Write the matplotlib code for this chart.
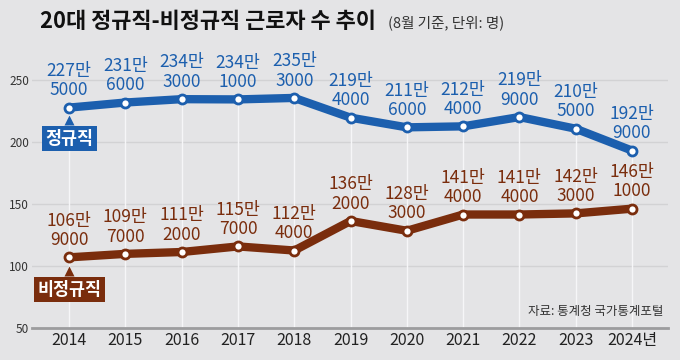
import matplotlib
matplotlib.use("Agg")
import matplotlib.pyplot as plt

plt.rcParams['font.family'] = ['Noto Sans CJK KR', 'DejaVu Sans']

years = [2014, 2015, 2016, 2017, 2018, 2019, 2020, 2021, 2022, 2023, 2024]
xtick_labels = ['2014', '2015', '2016', '2017', '2018', '2019', '2020', '2021', '2022', '2023', '2024년']
regular = [227.5, 231.6, 234.3, 234.1, 235.3, 219.4, 211.6, 212.4, 219.9, 210.5, 192.9]
regular_labels = ['227만\n5000', '231만\n6000', '234만\n3000', '234만\n1000', '235만\n3000',
                  '219만\n4000', '211만\n6000', '212만\n4000', '219만\n9000', '210만\n5000', '192만\n9000']
irregular = [106.9, 109.7, 111.2, 115.7, 112.4, 136.2, 128.3, 141.4, 141.4, 142.3, 146.1]
irregular_labels = ['106만\n9000', '109만\n7000', '111만\n2000', '115만\n7000', '112만\n4000',
                    '136만\n2000', '128만\n3000', '141만\n4000', '141만\n4000', '142만\n3000', '146만\n1000']
yticks = [50, 100, 150, 200, 250]

BLUE = '#1c5fae'
BROWN = '#7a2d0d'
BG = '#e4e4e6'

fig = plt.figure(figsize=(6.8, 3.6), dpi=100, facecolor=BG)
ax = fig.add_axes([32/680, 32/360, 636/680, 298/360], facecolor=BG)
ax.set_xlim(2013.34, 2024.64)
ax.set_ylim(50, 290)

for s in ax.spines.values():
    s.set_visible(False)
ax.axhline(50, color='#9c9c9e', lw=2, zorder=2, clip_on=False)
for y in yticks[1:]:
    ax.axhline(y, color='#d2d2d4', lw=1, zorder=1)
ax.vlines(years, 50, regular, color='#f6f6f8', lw=1, zorder=1)

ax.set_yticks(yticks)
ax.set_yticklabels([str(v) for v in yticks], fontsize=8.5, color='#333333')
ax.set_xticks(years)
ax.set_xticklabels(xtick_labels, fontsize=11.5, color='#222222')
ax.tick_params(axis='both', length=0)
ax.tick_params(axis='y', pad=2)
ax.tick_params(axis='x', pad=3)

for vals, labels, col in [(regular, regular_labels, BLUE), (irregular, irregular_labels, BROWN)]:
    ax.plot(years, vals, color=col, lw=6, solid_capstyle='round', solid_joinstyle='round', zorder=3)
    ax.plot(years, vals, 'o', ms=6.5, mfc='white', mec=col, mew=2, zorder=4)
    for x, v, t in zip(years, vals, labels):
        ax.annotate(t, (x, v), xytext=(0, 6), textcoords='offset points', ha='center', va='bottom',
                    fontsize=12.5, color=col, linespacing=1.1, zorder=5)

# series tags
ax.text(2014, 202.5, '정규직', ha='center', va='center', fontsize=12.5, fontweight='bold', color='white',
        bbox=dict(boxstyle='square,pad=0.2', fc=BLUE, ec='none'), zorder=6)
ax.plot([2014], [217.5], marker='^', ms=7, color=BLUE, mec='none', zorder=6)
ax.text(2014, 81, '비정규직', ha='center', va='center', fontsize=12.5, fontweight='bold', color='white',
        bbox=dict(boxstyle='square,pad=0.2', fc=BROWN, ec='none'), zorder=6)
ax.plot([2014], [96], marker='^', ms=7, color=BROWN, mec='none', zorder=6)

ax.text(2024.55, 63, '자료: 통계청 국가통계포털', ha='right', va='center', fontsize=9, color='#333333')

fig.text(40/680, 1 - 21/360, '20대 정규직-비정규직 근로자 수 추이', ha='left', va='center',
         fontsize=15.8, fontweight='bold', color='#111111')
fig.text(388/680, 1 - 23/360, '(8월 기준, 단위: 명)', ha='left', va='center', fontsize=10.5, color='#333333')

fig.savefig('out.png', dpi=100, facecolor=BG)
